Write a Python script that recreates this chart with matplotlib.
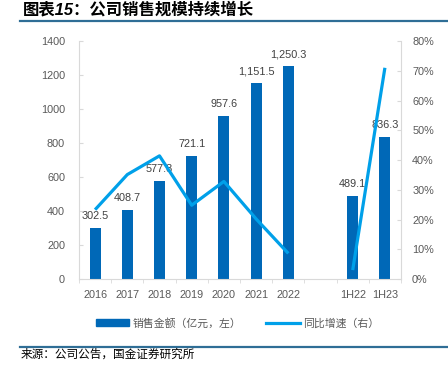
import matplotlib
matplotlib.use("Agg")
import matplotlib.pyplot as plt
import numpy as np
from matplotlib.lines import Line2D
from matplotlib.patches import Rectangle
from matplotlib.ticker import FuncFormatter

plt.rcParams['font.family'] = ['Liberation Sans', 'Noto Sans CJK SC', 'DejaVu Sans']

categories = ['2016', '2017', '2018', '2019', '2020', '2021', '2022', '', '1H22', '1H23']
sales = [302.5, 408.7, 577.8, 721.1, 957.6, 1151.5, 1250.3, np.nan, 489.1, 836.3]
sales_labels = ['302.5', '408.7', '577.8', '721.1', '957.6', '1,151.5', '1,250.3', '', '489.1', '836.3']
growth = [23.3, 35.1, 41.4, 24.8, 32.8, 20.2, 8.6, np.nan, 3.0, 71.0]

title = '图表15：公司销售规模持续增长'
source = '来源：公司公告，国金证券研究所'
legend_labels = ['销售金额（亿元，左）', '同比增速（右）']

bar_color = '#0068b7'
line_color = '#00a0e9'
tick_color = '#595959'
spine_color = '#d9d9d9'
rule_color = '#2f6e96'

fig = plt.figure(figsize=(4.48, 3.78), dpi=100)
ax = fig.add_axes([0.1763, 0.2619, 0.7188, 0.6296])
ax2 = ax.twinx()

x = np.arange(len(categories))
ax.bar(x, sales, width=0.34, color=bar_color, zorder=2)
for xi, v, lab in zip(x, sales, sales_labels):
    if not np.isnan(v):
        ax.annotate(lab, (xi, v), xytext=(0, 5), textcoords='offset points',
                    ha='center', va='bottom', fontsize=7.8, color='#404040', zorder=1)

ax2.plot(x, growth, color=line_color, lw=2.3, solid_capstyle='butt', zorder=3)

ax.set_xlim(-0.5, len(categories) - 0.5)
ax.set_ylim(0, 1400)
ax.set_yticks(np.arange(0, 1401, 200))
ax2.set_ylim(0, 80)
ax2.set_yticks(np.arange(0, 81, 10))
ax2.yaxis.set_major_formatter(FuncFormatter(lambda v, p: f'{v:.0f}%'))

ax.set_xticks(x)
ax.set_xticklabels(categories)
ax.set_xticks(np.arange(-0.5, len(categories), 1.0), minor=True)
ax.tick_params(axis='x', which='major', length=0, labelsize=7.8, labelcolor=tick_color, pad=8)
ax.tick_params(axis='x', which='minor', length=3, color=spine_color, direction='out')
ax.tick_params(axis='y', length=3, color=spine_color, direction='in', labelsize=7.8,
               labelcolor=tick_color, pad=10)
ax2.tick_params(axis='y', length=3, color=spine_color, direction='in', labelsize=7.8,
                labelcolor=tick_color, pad=8)

for a in (ax, ax2):
    a.spines['top'].set_visible(False)
    for s in ('left', 'right', 'bottom'):
        a.spines[s].set_color(spine_color)
        a.spines[s].set_linewidth(0.8)
ax2.spines['left'].set_visible(False)
ax.spines['right'].set_visible(False)
ax2.spines['bottom'].set_visible(False)

# legend
handles = [Rectangle((0, 0), 1, 1, color=bar_color),
           Line2D([0], [0], color=line_color, lw=2.3)]
leg = fig.legend(handles, legend_labels, loc='center', bbox_to_anchor=(0.53, 0.145),
                 ncol=2, frameon=False, fontsize=7.8, handlelength=3.1, handleheight=0.55,
                 columnspacing=2.3, handletextpad=0.3)
for t in leg.get_texts():
    t.set_color(tick_color)

# title and rules
fig.text(23 / 448, 1 - 10 / 378, title, fontsize=11.8, fontweight='bold', style='italic',
         ha='left', va='center', color='black')
fig.add_artist(Line2D([20 / 448, 1.0], [1 - 21 / 378, 1 - 21 / 378], color=rule_color, lw=1.6))
fig.add_artist(Line2D([20 / 448, 1.0], [1 - 347 / 378, 1 - 347 / 378], color=rule_color, lw=1.6))
fig.text(21 / 448, 1 - 355 / 378, source, fontsize=8.4, ha='left', va='center', color='black')

fig.savefig('out.png', dpi=100)
